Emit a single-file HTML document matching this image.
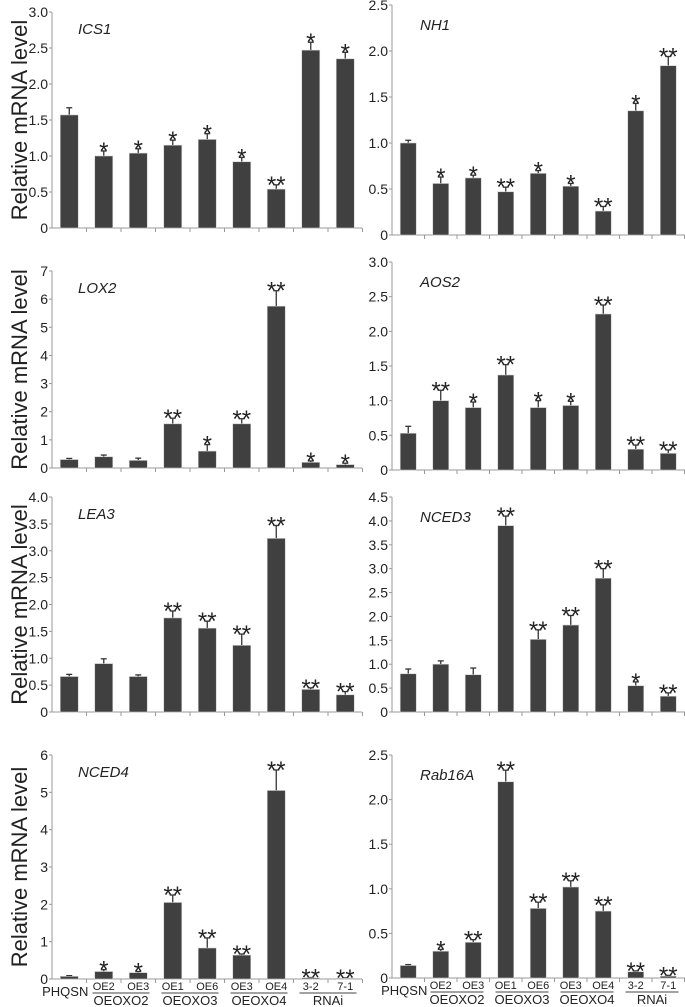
<!DOCTYPE html>
<html><head><meta charset="utf-8"><style>
body{margin:0;background:#fff}
svg{display:block;font-family:"Liberation Sans",Arial,sans-serif}
</style></head><body>
<svg id="fig" width="685" height="1007" viewBox="0 0 685 1007"></svg>
<script>
const categories=["PHQSN","OE2","OE3","OE1","OE6","OE3","OE4","3-2","7-1"];
const genes=["ICS1","NH1","LOX2","AOS2","LEA3","NCED3","NCED4","Rab16A"];
const vICS1=[1.57,1.0,1.04,1.15,1.23,0.92,0.54,2.47,2.35];
const eICS1=[0.1,0.07,0.06,0.07,0.08,0.06,0.06,0.11,0.09];
const sICS1=["","*","*","*","*","*","**","*","*"];
const vNH1=[1.0,0.56,0.62,0.47,0.67,0.53,0.26,1.35,1.84];
const eNH1=[0.03,0.07,0.03,0.05,0.03,0.03,0.05,0.08,0.1];
const sNH1=["","*","*","**","*","*","**","*","**"];
const vLOX2=[0.3,0.4,0.27,1.57,0.6,1.57,5.75,0.2,0.12];
const eLOX2=[0.04,0.06,0.08,0.2,0.23,0.18,0.55,0.05,0.05];
const sLOX2=["","","","**","*","**","**","*","*"];
const vAOS2=[0.53,1.0,0.9,1.37,0.9,0.93,2.25,0.3,0.24];
const eAOS2=[0.1,0.15,0.08,0.15,0.1,0.06,0.13,0.06,0.05];
const sAOS2=["","**","*","**","*","*","**","**","**"];
const vLEA3=[0.66,0.9,0.66,1.75,1.56,1.24,3.23,0.42,0.32];
const eLEA3=[0.04,0.09,0.03,0.13,0.13,0.21,0.24,0.03,0.06];
const sLEA3=["","","","**","**","**","**","**","**"];
const vNCED3=[0.8,1.0,0.78,3.9,1.52,1.82,2.8,0.55,0.33];
const eNCED3=[0.1,0.07,0.14,0.2,0.2,0.2,0.2,0.08,0.07];
const sNCED3=["","","","**","**","**","**","*","**"];
const vNCED4=[0.07,0.2,0.17,2.05,0.83,0.64,5.05,0.03,0.02];
const eNCED4=[0.02,0.05,0.03,0.2,0.27,0.03,0.55,0.01,0.01];
const sNCED4=["","*","*","**","**","**","**","**","**"];
const vRab16A=[0.14,0.3,0.4,2.2,0.78,1.02,0.75,0.07,0.02];
const eRab16A=[0.01,0.02,0.03,0.13,0.07,0.07,0.07,0.01,0.01];
const sRab16A=["","*","**","**","**","**","**","**","**"];
const ticksICS1=["0","0.5","1.0","1.5","2.0","2.5","3.0"];
const ticksNH1=["0","0.5","1.0","1.5","2.0","2.5"];
const ticksLOX2=["0","1","2","3","4","5","6","7"];
const ticksAOS2=["0","0.5","1.0","1.5","2.0","2.5","3.0"];
const ticksLEA3=["0","0.5","1.0","1.5","2.0","2.5","3.0","3.5","4.0"];
const ticksNCED3=["0","0.5","1.0","1.5","2.0","2.5","3.0","3.5","4.0","4.5"];
const ticksNCED4=["0","1","2","3","4","5","6"];
const ticksRab16A=["0","0.5","1.0","1.5","2.0","2.5"];
const groups=["OEOXO2","OEOXO3","OEOXO4","RNAi"];

const NS="http://www.w3.org/2000/svg";
const svg=document.getElementById('fig');
function mk(t,a,p){const e=document.createElementNS(NS,t);for(const k in a)e.setAttribute(k,a[k]);(p||svg).appendChild(e);return e;}

const layout=[
 {v:vICS1,e:eICS1,s:sICS1,t:ticksICS1,ax:52,top:12,base:228,sp:34.5,bw:18,xend:362},
 {v:vNH1,e:eNH1,s:sNH1,t:ticksNH1,ax:392,top:5,base:235,sp:32.5,bw:16,xend:685},
 {v:vLOX2,e:eLOX2,s:sLOX2,t:ticksLOX2,ax:52,top:271,base:468,sp:34.5,bw:18,xend:362},
 {v:vAOS2,e:eAOS2,s:sAOS2,t:ticksAOS2,ax:392,top:262,base:470,sp:32.5,bw:16,xend:685},
 {v:vLEA3,e:eLEA3,s:sLEA3,t:ticksLEA3,ax:52,top:497,base:712,sp:34.5,bw:18,xend:362},
 {v:vNCED3,e:eNCED3,s:sNCED3,t:ticksNCED3,ax:392,top:497,base:712,sp:32.5,bw:16,xend:685},
 {v:vNCED4,e:eNCED4,s:sNCED4,t:ticksNCED4,ax:52,top:755,base:979,sp:34.5,bw:18,xend:362},
 {v:vRab16A,e:eRab16A,s:sRab16A,t:ticksRab16A,ax:392,top:755,base:978,sp:32.5,bw:16,xend:685}
];

layout.forEach((p,pi)=>{
 const g=mk('g',{});
 
 
 const ymax=parseFloat(p.t[p.t.length-1]);
 const y=v=>p.base-(v/ymax)*(p.base-p.top);
 const x=i=>p.ax+p.sp*i+p.sp/2;
 const yl=mk('line',{x1:p.ax,y1:p.top,x2:p.ax,y2:p.base,stroke:'#999','stroke-width':1},g);
 
 
 const xl=mk('line',{x1:p.ax,y1:p.base,x2:p.xend,y2:p.base,stroke:'#999','stroke-width':1},g);
 
 
 p.t.forEach(tl=>{
  const ty=y(parseFloat(tl));
  mk('line',{x1:p.ax-3,y1:ty,x2:p.ax,y2:ty,stroke:'#999'},g);
  const tt=mk('text',{x:p.ax-4,y:ty+5,'text-anchor':'end','font-size':14,fill:'#222'},g);
  tt.textContent=tl;
  
  
 });
 for(let i=1;i<=9;i++){const tx=p.ax+p.sp*i;mk('line',{x1:tx,y1:p.base,x2:tx,y2:p.base+4,stroke:'#999'},g);}
 const gt=mk('text',{x:p.ax+(pi%2?28:26),y:p.top+(pi%2?25:22),'font-size':15,'font-style':'italic',fill:'#222'},g);
 gt.textContent=genes[pi];
 
 
 p.v.forEach((v,i)=>{
  const cx=x(i),top=y(v),et=y(v+p.e[i]);
  mk('line',{x1:cx,y1:top,x2:cx,y2:et,stroke:'#333','stroke-width':1.3},g);
  mk('line',{x1:cx-3,y1:et,x2:cx+3,y2:et,stroke:'#333','stroke-width':1.3},g);
  const r=mk('rect',{x:cx-p.bw/2,y:top,width:p.bw,height:p.base-top,fill:'#404040',stroke:'#ccc','stroke-width':0.6},g);
  
  
  if(p.s[i]){
   const st=mk('text',{x:cx,y:et+8,'text-anchor':'middle','font-size':24,fill:'#222'},g);
   st.textContent=p.s[i];
   
   
  }
 });
 if(pi%2===0){
  const mid=(p.top+p.base)/2;
  const lab=mk('text',{x:0,y:0,transform:`translate(27,${mid}) rotate(-90)`,'text-anchor':'middle','font-size':22,fill:'#222'},g);
  lab.textContent='Relative mRNA level';
  
  
 }
 if(pi>=6){
  const cat=mk('g',{},g);
  
  
  categories.forEach((c,i)=>{
   const t=mk('text',{x:x(i)+(i===0?-4:0),y:i===0?p.base+17:p.base+11,'text-anchor':'middle','font-size':i===0?13:11,fill:'#222'},cat);
   t.textContent=c;
  });
  [[1,2],[3,4],[5,6],[7,8]].forEach((pr,k)=>{
   const x1=x(pr[0])-p.sp/2+6,x2=x(pr[1])+p.sp/2-6;
   mk('line',{x1:x1,y1:p.base+14,x2:x2,y2:p.base+14,stroke:'#444'},cat);
   const t=mk('text',{x:(x1+x2)/2,y:p.base+26,'text-anchor':'middle','font-size':13,fill:'#222'},cat);
   t.textContent=groups[k];
  });
 }
});
</script>
</body></html>
